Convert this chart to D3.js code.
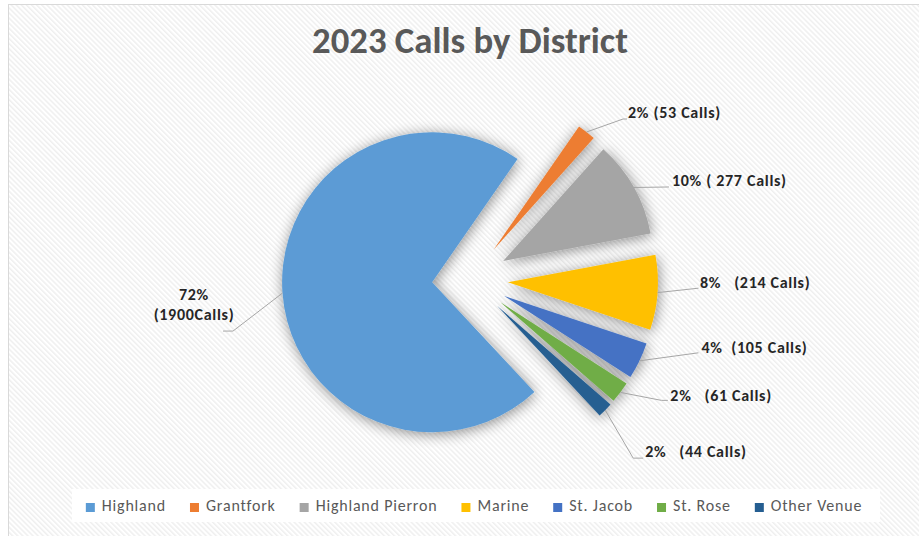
<!DOCTYPE html>
<html>
<head>
<meta charset="utf-8">
<script src="https://cdn.jsdelivr.net/npm/d3@7"></script>
<style>
  html, body { margin: 0; padding: 0; background: #ffffff; }
  svg { display: block; }
  text { font-family: Carlito, Calibri, Lato, "Open Sans", sans-serif; }
</style>
</head>
<body>
<svg id="chart" width="919" height="536"></svg>
<script>
// ---- data ----
const districts = ["Highland", "Grantfork", "Highland Pierron", "Marine", "St. Jacob", "St. Rose", "Other Venue"];
const calls = [1900, 53, 277, 214, 105, 61, 44];
const sliceColors = ["#5B9BD5", "#ED7D31", "#A5A5A5", "#FFC000", "#4472C4", "#70AD47", "#255E91"];
const sliceLabels = [
  ["72%", "(1900Calls)"],
  ["2% (53 Calls)"],
  ["10% ( 277 Calls)"],
  ["8%   (214 Calls)"],
  ["4%  (105 Calls)"],
  ["2%   (61 Calls)"],
  ["2%   (44 Calls)"]
];
const chartTitle = "2023 Calls by District";

// ---- layout ----
const W = 919, H = 536;
const cx = 470, cy = 279.5, radius = 150, explode = 38;
const firstSliceAngle = 137 * Math.PI / 180;

// leader elbow / end and label anchor, relative to the slice's outer mid point
const labelLayout = [
  { elbow: [-49.5, 38], end: [-59.5, 38], text: [-88.5, 7], anchor: "middle" },
  { elbow: [36.5, -13], end: [40.5, -13], text: [41.5, -14], anchor: "start" },
  { elbow: [34, -0.5],  end: [35, -0.5],  text: [38, -1],    anchor: "start" },
  { elbow: [40.8, -4.4], end: [41, -4.4], text: [42.5, -4.7], anchor: "start" },
  { elbow: [58.7, -8],  end: [59, -8],    text: [62, -7.7],  anchor: "start" },
  { elbow: [41, 8],     end: [47.5, 8],   text: [50, 8.6],   anchor: "start" },
  { elbow: [28, 48],    end: [38, 48],    text: [40, 47.3],  anchor: "start" }
];

const svg = d3.select("#chart");
const defs = svg.append("defs");

// diagonal hatch fill of the chart area
const pat = defs.append("pattern")
  .attr("id", "hatch").attr("patternUnits", "userSpaceOnUse")
  .attr("width", 3.6).attr("height", 3.6)
  .attr("patternTransform", "rotate(-45)");
pat.append("rect").attr("width", 3.6).attr("height", 3.6).attr("fill", "#ffffff");
pat.append("rect").attr("width", 1.5).attr("height", 3.6).attr("fill", "#efefef");

// soft shadow under the slices
const shadow = defs.append("filter").attr("id", "softShadow")
  .attr("x", "-40%").attr("y", "-40%").attr("width", "180%").attr("height", "180%");
shadow.append("feGaussianBlur").attr("in", "SourceAlpha").attr("stdDeviation", 7).attr("result", "blur");
shadow.append("feOffset").attr("in", "blur").attr("dx", 1).attr("dy", 2).attr("result", "off");
shadow.append("feComponentTransfer").attr("in", "off").attr("result", "faded")
  .append("feFuncA").attr("type", "linear").attr("slope", 0.45);
const merge = shadow.append("feMerge");
merge.append("feMergeNode").attr("in", "faded");
merge.append("feMergeNode").attr("in", "SourceGraphic");

// chart area
svg.append("rect").attr("x", 0).attr("y", 0).attr("width", W).attr("height", H).attr("fill", "#ffffff");
svg.append("rect")
  .attr("x", 8.5).attr("y", 4.5).attr("width", W + 20).attr("height", H + 20)
  .attr("fill", "url(#hatch)").attr("stroke", "#d9d9d9").attr("stroke-width", 1);

// title
const title = svg.append("text")
  .attr("x", cx).attr("y", 53)
  .attr("text-anchor", "middle")
  .attr("font-size", 30).attr("font-weight", "bold")
  .attr("fill", "#595959")
  .text(chartTitle);
{
  const w = title.node().getComputedTextLength();
  const target = 316;
  title.attr("font-size", 30 * target / w);
}

// pie
const pie = d3.pie().sort(null).value(d => d)
  .startAngle(firstSliceAngle).endAngle(firstSliceAngle + 2 * Math.PI);
const arcs = pie(calls);
const arc = d3.arc().innerRadius(0).outerRadius(radius);
const outerPt = d3.arc().innerRadius(radius).outerRadius(radius);

const slices = arcs.map((a, i) => {
  const mid = (a.startAngle + a.endAngle) / 2;
  const ox = cx + explode * Math.sin(mid);
  const oy = cy - explode * Math.cos(mid);
  const c = outerPt.centroid(a);
  return { a, i, ox, oy, px: ox + c[0], py: oy + c[1] };
});

const pieG = svg.append("g").attr("filter", "url(#softShadow)");
pieG.selectAll("path.slice")
  .data(slices)
  .join("path")
  .attr("class", "slice")
  .attr("transform", d => `translate(${d.ox},${d.oy})`)
  .attr("d", d => arc(d.a))
  .attr("fill", d => sliceColors[d.i]);

// leader lines
svg.append("g").selectAll("polyline")
  .data(slices)
  .join("polyline")
  .attr("points", d => {
    const L = labelLayout[d.i];
    return [[d.px, d.py], [d.px + L.elbow[0], d.py + L.elbow[1]], [d.px + L.end[0], d.py + L.end[1]]]
      .map(p => p.join(",")).join(" ");
  })
  .attr("fill", "none").attr("stroke", "#a6a6a6").attr("stroke-width", 1);

// data labels
const labelG = svg.append("g");
slices.forEach(d => {
  const L = labelLayout[d.i];
  const t = labelG.append("text")
    .attr("x", d.px + L.text[0]).attr("y", d.py + L.text[1])
    .attr("text-anchor", L.anchor)
    .attr("font-size", 16).attr("font-weight", "bold")
    .attr("letter-spacing", 0.7)
    .attr("fill", "#262626")
    .style("white-space", "pre");
  sliceLabels[d.i].forEach((line, k) => {
    t.append("tspan").attr("x", d.px + L.text[0]).attr("dy", k === 0 ? 0 : 20).text(line);
  });
});

// legend
const legendY = 511, swatch = 9, swGap = 7, itemGap = 24, legendCenter = 474;
svg.append("rect")
  .attr("x", 72).attr("y", 489).attr("width", 808).attr("height", 33)
  .attr("fill", "#ffffff");
const legendG = svg.append("g");
const items = districts.map((name, i) => {
  const g = legendG.append("g");
  g.append("rect").attr("width", swatch).attr("height", swatch)
    .attr("y", legendY - 8).attr("fill", sliceColors[i]);
  const t = g.append("text").attr("x", swatch + swGap).attr("y", legendY)
    .attr("font-size", 16).attr("letter-spacing", 0.8)
    .attr("fill", "#595959").text(name);
  return { g, w: swatch + swGap + t.node().getComputedTextLength() };
});
const totalW = d3.sum(items, d => d.w) + itemGap * (items.length - 1);
let x0 = legendCenter - totalW / 2;
items.forEach(it => {
  it.g.attr("transform", `translate(${x0},0)`);
  x0 += it.w + itemGap;
});
</script>
</body>
</html>
